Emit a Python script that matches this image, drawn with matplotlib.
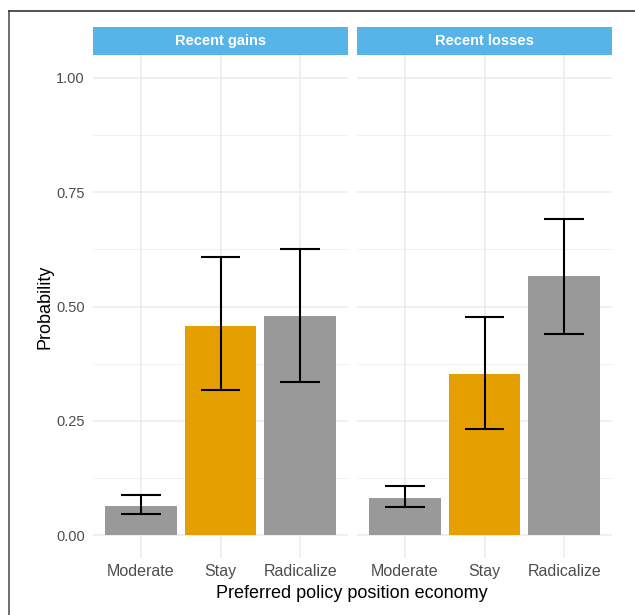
import matplotlib.pyplot as plt
from matplotlib.lines import Line2D

plt.rcParams['font.family'] = ['Liberation Sans', 'DejaVu Sans']

categories = ["Moderate", "Stay", "Radicalize"]
panels = ["Recent gains", "Recent losses"]

gains_prob = [0.064, 0.457, 0.479]
gains_low = [0.047, 0.317, 0.335]
gains_high = [0.087, 0.609, 0.626]

losses_prob = [0.082, 0.352, 0.566]
losses_low = [0.062, 0.233, 0.440]
losses_high = [0.107, 0.477, 0.691]

bar_colors = ["#999999", "#E69F00", "#999999"]
y_ticks = [0.0, 0.25, 0.5, 0.75, 1.0]
y_labels = ["0.00", "0.25", "0.50", "0.75", "1.00"]

W, H = 635, 615
fig = plt.figure(figsize=(W / 100, H / 100), dpi=100)

panel_x = [(93, 348), (357, 612)]
top_px, bot_px = 55, 558
strip_top = 27

data = [(gains_prob, gains_low, gains_high), (losses_prob, losses_low, losses_high)]

for i, (x0, x1) in enumerate(panel_x):
    ax = fig.add_axes([x0 / W, 1 - bot_px / H, (x1 - x0) / W, (bot_px - top_px) / H])
    prob, low, high = data[i]
    xs = list(range(1, len(categories) + 1))

    # grid
    for y in y_ticks:
        ax.axhline(y, color="#EBEBEB", lw=1.1, zorder=0)
    for y in [0.125, 0.375, 0.625, 0.875]:
        ax.axhline(y, color="#F0F0F0", lw=0.8, zorder=0)
    for x in xs:
        ax.axvline(x, color="#EBEBEB", lw=1.1, zorder=0)

    ax.bar(xs, prob, width=0.9, color=bar_colors, edgecolor="none", zorder=2)
    ax.vlines(xs, low, high, color="black", lw=1.5, zorder=3)
    ax.hlines(low, [x - 0.25 for x in xs], [x + 0.25 for x in xs], color="black", lw=1.5, zorder=3)
    ax.hlines(high, [x - 0.25 for x in xs], [x + 0.25 for x in xs], color="black", lw=1.5, zorder=3)

    ax.set_xlim(0.4, 3.6)
    ax.set_ylim(-0.05, 1.05)
    ax.set_xticks(xs)
    ax.set_xticklabels(categories, fontsize=11.5, color="#4D4D4D")
    ax.set_yticks(y_ticks)
    if i == 0:
        ax.set_yticklabels(y_labels, fontsize=10.5, color="#4D4D4D")
    else:
        ax.set_yticklabels([])
    ax.tick_params(length=0)
    ax.tick_params(axis="y", pad=6)
    ax.tick_params(axis="x", pad=4)
    for s in ax.spines.values():
        s.set_visible(False)

    # strip
    sax = fig.add_axes([x0 / W, 1 - top_px / H, (x1 - x0) / W, (top_px - strip_top) / H])
    sax.set_facecolor("#56B4E9")
    sax.set_xticks([])
    sax.set_yticks([])
    for s in sax.spines.values():
        s.set_visible(False)
    sax.text(0.5, 0.5, panels[i], ha="center", va="center", color="white",
             fontsize=10.5, fontweight="bold", transform=sax.transAxes)

fig.text(45 / W, 1 - 307 / H, "Probability", rotation=90, ha="center", va="center", fontsize=13)
fig.text(352 / W, 1 - 594 / H, "Preferred policy position economy", ha="center", va="center", fontsize=13)

# border lines from the source screenshot
fig.add_artist(Line2D([9 / W, 9 / W], [0, 1 - 11 / H], color="#555555", lw=1.2, transform=fig.transFigure))
fig.add_artist(Line2D([9 / W, 1], [1 - 11 / H, 1 - 11 / H], color="#333333", lw=1.2, transform=fig.transFigure))

fig.savefig("out.png", dpi=100)
